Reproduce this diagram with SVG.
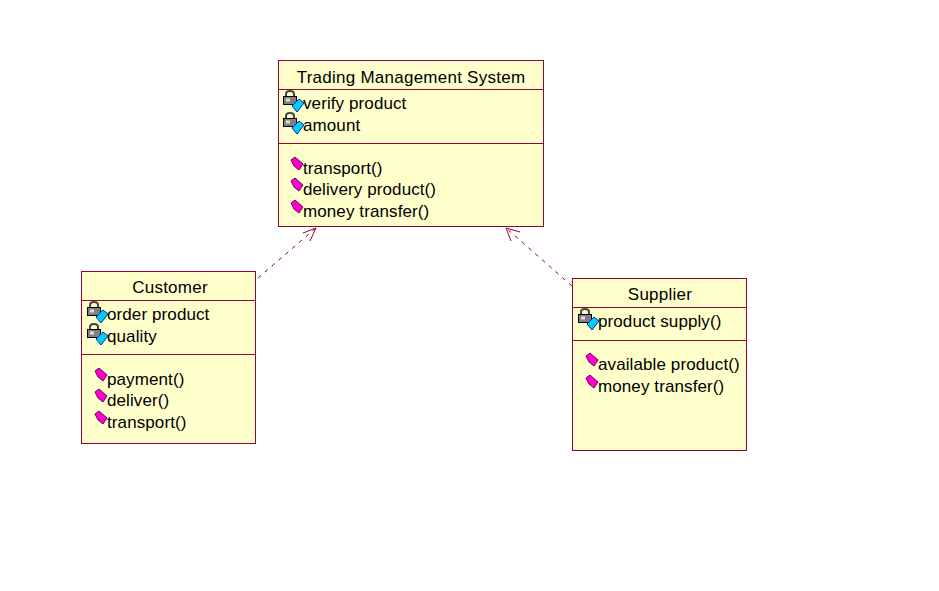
<svg xmlns="http://www.w3.org/2000/svg" width="939" height="591" viewBox="0 0 939 591">
<style>
.box{fill:#ffffcc;stroke:#990033;stroke-width:1}
.sep{stroke:#990033;stroke-width:1;fill:none}
text{font-family:"Liberation Sans",Arial,sans-serif;font-size:17px;letter-spacing:.1px;fill:#000}
.t{text-anchor:middle;letter-spacing:.25px}
.dash{stroke:#990033;stroke-width:1;stroke-dasharray:4 5;fill:none}
.head{stroke:#990033;stroke-width:1;fill:none}
</style>
<defs>
<g id="attr">
<path d="M-4 -3 V-6 Q-4 -9 0 -9 Q4 -9 4 -6 V-3" fill="none" stroke="#444" stroke-width="2"/>
<rect x="-6.500" y="-3.500" width="13" height="8" fill="#808080" stroke="#000"/>
<rect x="-4" y="-1.500" width="4" height="3" fill="#ddd"/>
<path d="M2 6 L9 -1 L14 3 L7 12 Z" fill="#00ccff" stroke="#003399"/>
</g>
<g id="op">
<path d="M-5 -3 L-1 -6 L7 1 L3 7 L-2 3 Z" fill="#ff00cc" stroke="#660066"/>
</g>
</defs>
<g id="connectors">
<path class="dash" d="M258 278 L316 228"/>
<path class="head" d="M316 228 L303 233 M316 228 L310 241"/>
<path class="dash" d="M572 286 L506 228"/>
<path class="head" d="M506 228 L511 241 M506 228 L520 232"/>
</g>
<g id="trading">
<rect class="box" x="278.500" y="60.500" width="265" height="166"/>
<path class="sep" d="M279 89.500H543M279 143.500H543"/>
<text class="t" x="411" y="83">Trading Management System</text>
<use href="#attr" x="290" y="100"/><text x="303" y="109">verify product</text>
<use href="#attr" x="290" y="122"/><text x="303" y="131">amount</text>
<use href="#op" x="296" y="163"/><text x="303" y="174">transport()</text>
<use href="#op" x="296" y="184"/><text x="303" y="195">delivery product()</text>
<use href="#op" x="296" y="206"/><text x="303" y="217">money transfer()</text>
</g>
<g id="customer">
<rect class="box" x="81.500" y="271.500" width="174" height="172"/>
<path class="sep" d="M82 300.500H255M82 354.500H255"/>
<text class="t" x="170" y="293">Customer</text>
<use href="#attr" x="94" y="311"/><text x="107" y="320">order product</text>
<use href="#attr" x="94" y="333"/><text x="107" y="342">quality</text>
<use href="#op" x="100" y="374"/><text x="107" y="385">payment()</text>
<use href="#op" x="100" y="395"/><text x="107" y="406">deliver()</text>
<use href="#op" x="100" y="417"/><text x="107" y="428">transport()</text>
</g>
<g id="supplier">
<rect class="box" x="572.500" y="278.500" width="174" height="172"/>
<path class="sep" d="M573 307.500H746M573 340.500H746"/>
<text class="t" x="660" y="300">Supplier</text>
<use href="#attr" x="585" y="318"/><text x="598" y="327">product supply()</text>
<use href="#op" x="591" y="359"/><text x="598" y="370">available product()</text>
<use href="#op" x="591" y="381"/><text x="598" y="392">money transfer()</text>
</g>
</svg>
